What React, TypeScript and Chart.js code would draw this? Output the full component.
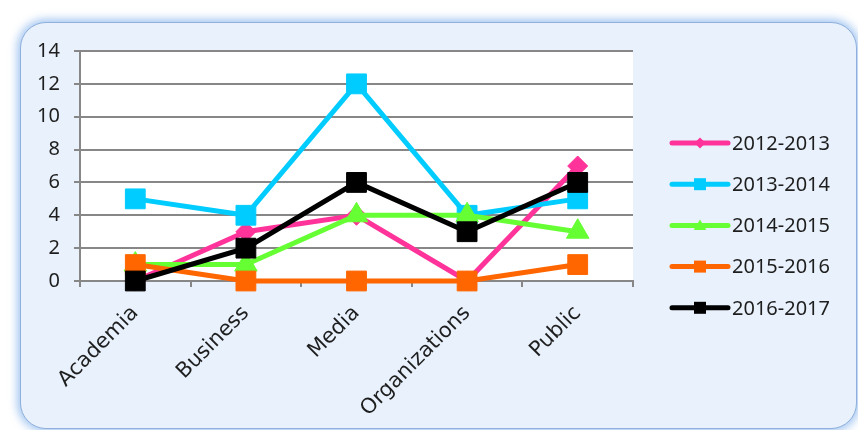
import React, { useEffect, useRef } from 'react';
import { Chart, registerables } from 'chart.js';

Chart.register(...registerables);

const categories = ['Academia', 'Business', 'Media', 'Organizations', 'Public'];
const seriesNames = ['2012-2013', '2013-2014', '2014-2015', '2015-2016', '2016-2017'];
const s2012_2013 = [0, 3, 4, 0, 7];
const s2013_2014 = [5, 4, 12, 4, 5];
const s2014_2015 = [1, 1, 4, 4, 3];
const s2015_2016 = [1, 0, 0, 0, 1];
const s2016_2017 = [0, 2, 6, 3, 6];
const yMin = 0;
const yMax = 14;
const yStep = 2;

const seriesValues = [s2012_2013, s2013_2014, s2014_2015, s2015_2016, s2016_2017];
const colors = ['#ff3399', '#00ccff', '#66ff33', '#ff6600', '#000000'];
const pointStyles = ['rectRot', 'rect', 'triangle', 'rect', 'rect'];
const pointRadii = [10, 14, 13, 14, 14];

const GRID = '#878787';
const TEXT = '#1e1e1e';

function drawMarker(ctx: CanvasRenderingContext2D, style: string, x: number, y: number, s: number) {
  ctx.beginPath();
  if (style === 'rectRot') {
    ctx.moveTo(x, y - s);
    ctx.lineTo(x + s, y);
    ctx.lineTo(x, y + s);
    ctx.lineTo(x - s, y);
    ctx.closePath();
  } else if (style === 'triangle') {
    ctx.moveTo(x, y - s);
    ctx.lineTo(x + s * 1.05, y + s * 0.75);
    ctx.lineTo(x - s * 1.05, y + s * 0.75);
    ctx.closePath();
  } else {
    ctx.rect(x - s, y - s, 2 * s, 2 * s);
  }
  ctx.fill();
}

const plotBg = {
  id: 'plotBg',
  beforeDraw(chart: any) {
    const { ctx, chartArea } = chart;
    ctx.save();
    ctx.fillStyle = '#ffffff';
    ctx.fillRect(chartArea.left, chartArea.top, chartArea.right - chartArea.left, chartArea.bottom - chartArea.top);
    ctx.restore();
  },
};

const customLegend = {
  id: 'customLegend',
  afterDraw(chart: any) {
    const ctx: CanvasRenderingContext2D = chart.ctx;
    const x0 = 672;
    const x1 = 728;
    const top = 143;
    const gap = 41.2;
    ctx.save();
    chart.data.datasets.forEach((ds: any, i: number) => {
      const y = top + i * gap;
      ctx.strokeStyle = ds.borderColor;
      ctx.fillStyle = ds.borderColor;
      ctx.lineWidth = 5;
      ctx.lineCap = 'round';
      ctx.beginPath();
      ctx.moveTo(x0, y);
      ctx.lineTo(x1, y);
      ctx.stroke();
      const style = pointStyles[i];
      drawMarker(ctx, style, (x0 + x1) / 2, y, style === 'rectRot' ? 5.5 : 6);
      ctx.fillStyle = TEXT;
      ctx.font = '20px "Noto Sans"';
      ctx.textAlign = 'left';
      ctx.textBaseline = 'middle';
      ctx.fillText(ds.label, x1 + 4, y + 1);
    });
    ctx.restore();
  },
};

export default function App() {
  const ref = useRef<HTMLCanvasElement | null>(null);

  useEffect(() => {
    if (!ref.current) return;
    const datasets = seriesNames.map((name, i) => ({
      label: name,
      data: seriesValues[i],
      borderColor: colors[i],
      backgroundColor: colors[i],
      pointBackgroundColor: colors[i],
      pointBorderColor: colors[i],
      pointBorderWidth: 1,
      borderWidth: 5,
      pointStyle: pointStyles[i] as any,
      pointRadius: pointRadii[i],
      pointHoverRadius: pointRadii[i],
      tension: 0,
      clip: false as any,
      order: seriesNames.length - i,
    }));
    const chart = new Chart(ref.current, {
      type: 'line',
      data: { labels: categories, datasets },
      plugins: [plotBg, customLegend],
      options: {
        animation: false,
        responsive: false,
        maintainAspectRatio: false,
        devicePixelRatio: 1,
        layout: { padding: { top: 51, right: 225, bottom: 0, left: 0 } },
        plugins: { legend: { display: false }, tooltip: { enabled: false } },
        scales: {
          x: {
            type: 'category',
            offset: true,
            grid: {
              display: true,
              drawOnChartArea: false,
              drawTicks: true,
              tickLength: 6,
              color: GRID,
              lineWidth: 2,
              offset: true,
            },
            border: { display: true, color: GRID, width: 2 },
            ticks: {
              minRotation: 45,
              maxRotation: 45,
              autoSkip: false,
              padding: 14,
              color: TEXT,
              font: { family: '"DejaVu Sans"', size: 21 },
            },
            afterFit: (s: any) => {
              s.height = 149;
            },
          },
          y: {
            min: yMin,
            max: yMax,
            ticks: {
              stepSize: yStep,
              padding: 14,
              color: TEXT,
              font: { family: '"Noto Sans"', size: 20 },
            },
            grid: { color: GRID, lineWidth: 2, tickLength: 6 },
            border: { display: true, color: GRID, width: 2 },
            afterFit: (s: any) => {
              s.width = 80;
            },
          },
        },
      },
    });
    return () => chart.destroy();
  }, []);

  return (
    <div style={{ position: 'fixed', left: 0, top: 0, width: 858, height: 430, overflow: 'hidden', background: '#ffffff' }}>
      <div
        style={{
          position: 'absolute',
          left: 20,
          top: 22,
          width: 837,
          height: 407,
          boxSizing: 'border-box',
          borderRadius: 26,
          background: '#e9f2fc',
          border: '1.5px solid #8fb0dc',
          boxShadow: '0 0 9px 3px rgba(150,190,238,0.85)',
        }}
      />
      <canvas ref={ref} width={858} height={430} style={{ position: 'absolute', left: 0, top: 0, width: 858, height: 430 }} />
    </div>
  );
}
